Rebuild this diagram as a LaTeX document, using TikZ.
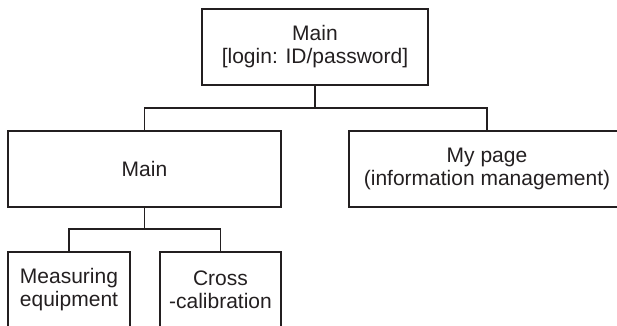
\documentclass[tikz,border=0pt]{standalone}
\usepackage{fontspec}
\setmainfont{Liberation Sans}
\usepackage{tikz}
\definecolor{inkgray}{RGB}{35, 31, 32}

\begin{document}
\begin{tikzpicture}[x = 1pt, y = -1pt,
		box/.style = {draw = inkgray, line width = 1.2pt, align = center, text = inkgray,
			font = \fontsize{21}{23}\selectfont, minimum height = 76pt, inner sep = 2pt}]
			\clip (0,0) rectangle (617,325);
			\node (top) at (315,47) [box, minimum width = 226pt] {Main\\{[login: ID/password]}};
			\node (main) at (144.5,169) [box, minimum width = 273pt] {Main};
			\node (mypage) at (487,169) [box, minimum width = 276pt] {My page\\(information management)};
			\node (measure) at (69,290) [box, minimum width = 122pt] {Measuring\\equipment};
			\node (cross) at (220.5,290) [box, minimum width = 121pt] {Cross\\-calibration};
			\coordinate (splitA) at (315,108);
			\coordinate (splitB) at (144.5,229);
			\draw [draw = inkgray, line width = 1.2pt] (top.south) -- (splitA) -| (main.north);
			\draw [draw = inkgray, line width = 1.2pt] (splitA) -| (mypage.north);
			\draw [draw = inkgray, line width = 1.2pt] (main.south) -- (splitB) -| (measure.north);
			\draw [draw = inkgray, line width = 1.2pt] (splitB) -| (cross.north);
			\end{tikzpicture}
\end{document}
